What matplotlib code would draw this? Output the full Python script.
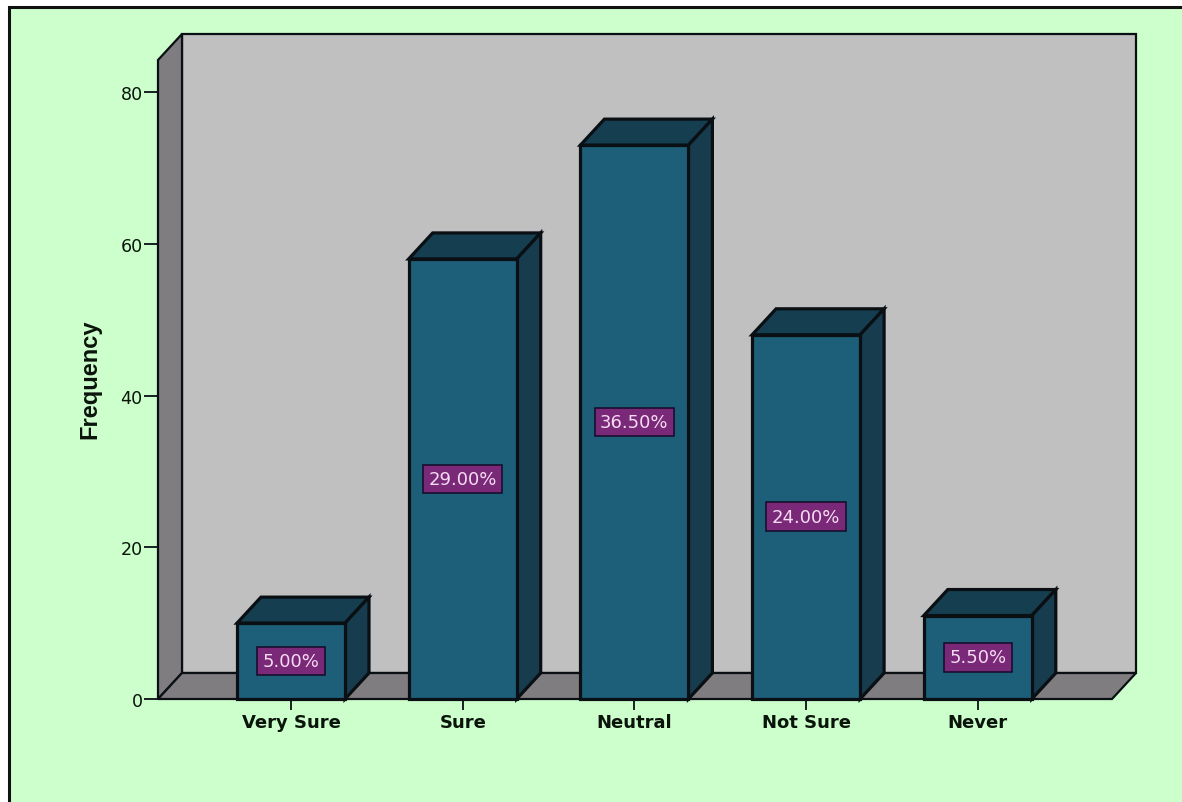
import matplotlib
matplotlib.use("Agg")
import matplotlib.pyplot as plt
from matplotlib.patches import Polygon, Rectangle

categories = ["Very Sure", "Sure", "Neutral", "Not Sure", "Never"]
frequency = [10, 58, 73, 48, 11]
percent_labels = ["5.00%", "29.00%", "36.50%", "24.00%", "5.50%"]
y_ticks = [0, 20, 40, 60, 80]

W, H = 1182, 803
plt.rcParams["font.family"] = ["Liberation Sans", "DejaVu Sans"]

GREEN = "#ccffcc"
WALL = "#c0c0c0"
SHADE = "#7f7d7f"
FRONT = "#1d5e78"
TOP = "#153f50"
SIDE = "#163c4e"
INK = "#0a0f14"
TEXT = "#0a140a"
FRAME_LW = 1.6
BAR_LW = 2.3

fig = plt.figure(figsize=(W / 100, H / 100), dpi=100, facecolor="white")

# Panel background with its border; right and bottom edges run off the canvas
fig.add_artist(Rectangle((9 / W, -0.1), 1.2, 1.1 - 8 / H, transform=fig.transFigure,
                         facecolor=GREEN, edgecolor="#111111", linewidth=2.2, zorder=-1))

left, right, bottom, top = 158, 1112, 700, 61
ax = fig.add_axes([left / W, 1 - bottom / H, (right - left) / W, (bottom - top) / H])
ax.patch.set_visible(False)
for s in ax.spines.values():
    s.set_visible(False)

# Pixel-to-data scales for the axes
x_step = 171.7
x_min = (left - 291) / x_step
x_max = (right - 291) / x_step
y_scale = (699 - 92) / 80
y_max = (bottom - top) / y_scale
ax.set_xlim(x_min, x_max)
ax.set_ylim(0, y_max)

# Oblique depth of the 3D box
dx = 24 / x_step
dy = 26 / y_scale
bar_w = 108 / x_step


def face(points, color, lw, z):
    ax.add_patch(Polygon(points, closed=True, facecolor=color, edgecolor=INK,
                         linewidth=lw, joinstyle="miter", clip_on=False, zorder=z))


# Back wall, side wall and floor
face([(x_min + dx, dy), (x_max + dx, dy), (x_max + dx, y_max + dy), (x_min + dx, y_max + dy)],
     WALL, FRAME_LW, 1)
face([(x_min, 0), (x_min + dx, dy), (x_min + dx, y_max + dy), (x_min, y_max)],
     SHADE, FRAME_LW, 1.1)
face([(x_min, 0), (x_max, 0), (x_max + dx, dy), (x_min + dx, dy)],
     SHADE, FRAME_LW, 1.1)

positions = list(range(len(categories)))
ax.bar(positions, frequency, width=bar_w, color=FRONT, edgecolor=INK,
       linewidth=BAR_LW, clip_on=False, zorder=3)

for x, v, label in zip(positions, frequency, percent_labels):
    x0, x1 = x - bar_w / 2, x + bar_w / 2
    face([(x0, v), (x1, v), (x1 + dx, v + dy), (x0 + dx, v + dy)], TOP, BAR_LW, 2.5)
    face([(x1, 0), (x1 + dx, dy), (x1 + dx, v + dy), (x1, v)], SIDE, BAR_LW, 2.5)
    ax.text(x, v / 2, label, ha="center", va="center", fontsize=13,
            family="DejaVu Sans", color="#f6dcf2", zorder=5,
            bbox=dict(boxstyle="square,pad=0.3", facecolor="#7a2878",
                      edgecolor="#140a28", linewidth=1.1))

ax.set_xticks(positions, categories, fontweight="bold", fontsize=13, color=TEXT,
              family="DejaVu Sans")
ax.set_yticks(y_ticks, [str(t) for t in y_ticks], fontsize=12.6, color=TEXT,
              family="DejaVu Sans")
ax.tick_params(axis="x", length=8, width=1.3, color=INK, pad=2)
ax.tick_params(axis="y", length=10, width=1.3, color=INK, pad=1)

fig.text(90 / W, 1 - 379 / H, "Frequency", rotation=90, ha="center", va="center",
         fontsize=17, fontweight="bold", color=TEXT)

fig.savefig("out.png", dpi=100, facecolor=fig.get_facecolor())
